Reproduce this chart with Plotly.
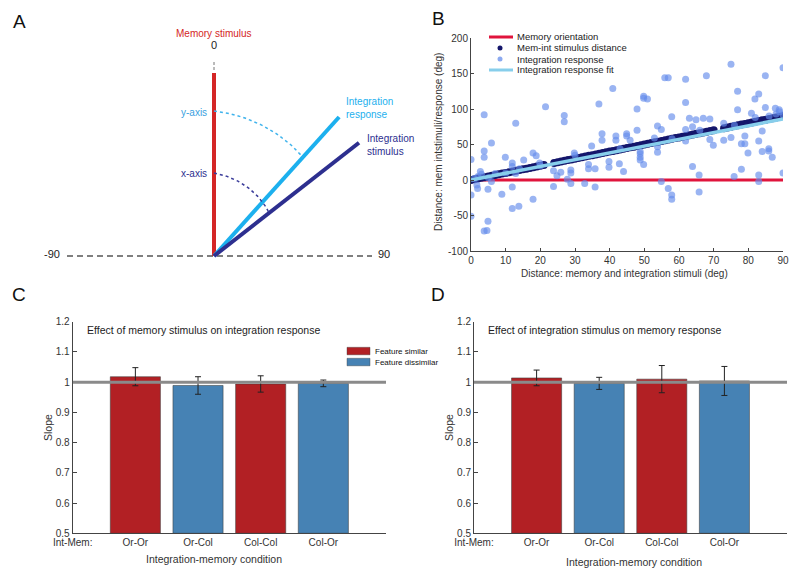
import numpy as np
import plotly.graph_objects as go

# ---- data -------------------------------------------------------------
# Panel A: schematic orientations (deg from the memory stimulus)
orient_names = ["Memory stimulus", "Integration response", "Integration stimulus"]
orient_angles = [0, 42, 52]
orient_ticks = [-90, 0, 90]

# Panel B: distances (deg)
mem_x = [0, 90]
mem_y = [0, 0]
stim_dist = [0, 1, 2, 3, 4, 5, 6, 7, 8, 9, 10, 11, 12, 13, 14, 15, 16, 17, 18, 19, 20, 21,
             24, 25, 26, 27, 28, 29, 30, 31, 32, 33, 34, 35, 36, 37, 38, 39, 40, 41, 42, 43,
             44, 45, 46, 47, 48, 49, 50, 51, 52, 53, 54, 55, 56, 57, 58, 59, 60, 61, 62, 63,
             64, 65, 66, 67, 68, 69, 70, 73, 74, 75, 76, 77, 78, 79, 80, 81, 82, 83, 84, 85,
             86, 87, 88, 89, 90]
resp_x = [0, 0, 0, 1.7, 1.9, 2.7, 3.8, 3.8, 3.8, 3.8, 4.6, 4.9, 4.9, 5.9, 5.9, 8.9, 9.9,
          11.9, 11.9, 11.9, 11.9, 12.9, 12.9, 13.8, 15.2, 17.9, 17.9, 18.8, 19.8, 21.5,
          23.8, 23.8, 24.8, 25.9, 26.9, 26.9, 27.8, 28.8, 28.8, 28.8, 29.8, 32.8, 33.9,
          33.9, 34.8, 35.8, 35.8, 36.9, 37.8, 37.8, 39.8, 39.8, 40.9, 41.8, 41.8, 42.8, 44,
          44.9, 44.9, 45.9, 47.9, 47.9, 48.8, 48.8, 48.8, 48.8, 49.8, 49.8, 49.8, 50.9,
          52.9, 53.8, 53.8, 53.8, 54.9, 54.9, 55.9, 56.9, 56.9, 57.9, 57.9, 57.9, 61.9,
          61.9, 61.9, 61.9, 63, 63.9, 63.9, 64.9, 65.8, 65.8, 67, 67.9, 68.9, 68.9, 69.9,
          72.9, 72.9, 75, 75, 75.9, 76.9, 76.9, 78, 78, 79, 79, 79.9, 80.9, 81.9, 83, 83,
          83, 83, 84, 84, 84.9, 84.9, 85.9, 85.9, 86.9, 87.8, 88.9, 90, 90, 90,
          1, 2, 3, 5, 7, 10, 14, 20, 30, 43, 58, 66, 76, 82, 86, 88, 89]
resp_y = [29, -21, -51, -7, -12, 12, 92, 41, 32, -72, -71, -58, -13, 52, -2, -20, 32,
          24, 19, -10, -40, 80, 9, -37, 28, 38, -27, 34, 24, 103,
          -9, 13, 6, 11, 91, 82, 1, 14, 10, -5, 38, -5, 22,
          16, 48, 16, -10, 107, 65, 56, 26, 18, 129, 62, 56, 23, 12,
          65, 62, 56, 100, 70, 40, 37, 32, 28, 118, 115, 22, 114,
          59, 76, 47, 39, 71, -2, 144, 144, -12, 89, -21, -27, 142,
          109, 71, 55, 87, 75, 19, 85, 7, -17, 87, 147, 86, 57, 49,
          56, 80, 163, 60, 5, 125, 99, 51, 15, 51, 62, 38, 94, 114, 121, 55,
          7, -2, 69, 40, 147, 102, 44, 41, 32, 101, 99, 158, 10, 92,
          2, 5, 8, 3, 9, 10, 16, 20, 35, 44, 58, 70, 77, 88, 90, 93, 96]
fit_x = [0, 90]
fit_y = [0, 86]
b_xticks = [0, 10, 20, 30, 40, 50, 60, 70, 80, 90]
b_yticks = [-100, -50, 0, 50, 100, 150, 200]

# Panels C and D: slopes per integration-memory condition
conditions = ["Or-Or", "Or-Col", "Col-Col", "Col-Or"]
feature_group = ["Feature similar", "Feature dissimilar", "Feature similar", "Feature dissimilar"]
slope_c = [1.018, 0.989, 0.994, 0.996]
err_c = [0.030, 0.029, 0.027, 0.011]
slope_d = [1.014, 0.996, 1.010, 1.004]
err_d = [0.026, 0.020, 0.045, 0.048]
slope_ticks = [0.5, 0.6, 0.7, 0.8, 0.9, 1.0, 1.1, 1.2]
slope_ticktext = ["0.5", "0.6", "0.7", "0.8", "0.9", "1", "1.1", "1.2"]

# ---- style ------------------------------------------------------------
W, H = 800, 578
FONT = "Liberation Sans, Arial, sans-serif"
TXT = "#333333"
RED_A, LBLUE_A, DBLUE_A = "#d42626", "#1cb0ee", "#2d2f8f"
group_colors = {"Feature similar": "#b22024", "Feature dissimilar": "#4682b4"}


def px(x):
    return x / W


def py(y):
    return 1 - y / H


def note(x, y, text, size=10.5, color=TXT, xanchor="center", angle=0, ref="paper", **kw):
    if ref == "paper":
        x, y, xr, yr = px(x), py(y), "paper", "paper"
    else:
        xr, yr = "x4", "y4"
    fig.add_annotation(x=x, y=y, xref=xr, yref=yr, text=text, showarrow=False,
                       xanchor=xanchor, yanchor="middle", textangle=angle,
                       font=dict(family=FONT, size=size, color=color), **kw)


fig = go.Figure()

# ---- panel A (axes in page pixels) ------------------------------------
ox, oy = 214, 256
arm_len = {"Memory stimulus": 183, "Integration response": 187, "Integration stimulus": 184}
arm_col = {"Memory stimulus": RED_A, "Integration response": LBLUE_A,
           "Integration stimulus": DBLUE_A}

for name, ang in zip(orient_names, orient_angles):
    a = np.deg2rad(ang)
    r = arm_len[name]
    fig.add_trace(go.Scatter(x=[ox, ox + r * np.sin(a)], y=[oy, oy - r * np.cos(a)],
                             mode="lines", line=dict(color=arm_col[name], width=4),
                             xaxis="x4", yaxis="y4", showlegend=False, hoverinfo="skip"))


def arc(theta_end, r0, r1, n=40):
    t = np.linspace(0, np.deg2rad(theta_end), n)
    r = np.linspace(r0, r1, n)
    return ox + r * np.sin(t), oy - r * np.cos(t)


ax_y, ay_y = arc(orient_angles[1], 145, 133)
ax_x, ay_x = arc(orient_angles[2], 83, 70)
fig.add_trace(go.Scatter(x=ax_y, y=ay_y, mode="lines", line=dict(color="#3fb3ec", width=1.5, dash="dot"),
                         xaxis="x4", yaxis="y4", showlegend=False, hoverinfo="skip"))
fig.add_trace(go.Scatter(x=ax_x, y=ay_x, mode="lines", line=dict(color="#3a3c9a", width=1.5, dash="dot"),
                         xaxis="x4", yaxis="y4", showlegend=False, hoverinfo="skip"))

# dashed baseline (-90 .. 90) and the small dashed tick above 0
fig.add_shape(type="line", xref="x4", yref="y4", x0=ox - 147, y0=oy, x1=ox + 158, y1=oy,
              line=dict(color="#555555", width=1.5, dash="6px,4px"), layer="below")
fig.add_shape(type="line", xref="x4", yref="y4", x0=ox, y0=oy - 186, x1=ox, y1=oy - 196,
              line=dict(color="#777777", width=1, dash="3px,2px"))

tick_r = {-90: 162, 0: 209, 90: 170}
for t in orient_ticks:
    a = np.deg2rad(t)
    note(ox + tick_r[t] * np.sin(a), oy - 2 - tick_r[t] * np.cos(a), str(t),
         size=11, color="#222", ref="a")

note(ox, 33, "Memory stimulus", size=10, color=RED_A, ref="a")
note(209, 112, "y-axis", size=10, color="#3a9fe0", xanchor="right", ref="a")
note(209, 173, "x-axis", size=10, color=DBLUE_A, xanchor="right", ref="a")
note(344, 108, "Integration<br>response", size=10, color=LBLUE_A, xanchor="left",
     ref="a", align="left")
note(365, 145, "Integration<br>stimulus", size=10, color=DBLUE_A, xanchor="left",
     ref="a", align="left")

# ---- panel B -----------------------------------------------------------
fig.add_trace(go.Scatter(x=mem_x, y=mem_y, mode="lines", line=dict(color="#e0143c", width=3),
                         name="Memory orientation", showlegend=False))
fig.add_trace(go.Scatter(x=stim_dist, y=stim_dist, mode="markers",
                         marker=dict(color="#14166b", size=8),
                         name="Mem-int stimulus distance", showlegend=False))
fig.add_trace(go.Scatter(x=resp_x, y=resp_y, mode="markers",
                         marker=dict(color="rgba(100,140,235,0.65)", size=7),
                         name="Integration response", showlegend=False))
fig.add_trace(go.Scatter(x=fit_x, y=fit_y, mode="lines", line=dict(color="#87ceeb", width=3.5),
                         name="Integration response fit", showlegend=False))

# manual legend for B
leg_rows = [("Memory orientation", "line", "#e0143c"),
            ("Mem-int stimulus distance", "dot", "#14166b"),
            ("Integration response", "dot", "rgba(100,140,235,0.75)"),
            ("Integration response fit", "line", "#87ceeb")]
for i, (lab, kind, col) in enumerate(leg_rows):
    yy = 37 + 11 * i
    if kind == "line":
        fig.add_shape(type="line", xref="paper", yref="paper", x0=px(489), x1=px(513),
                      y0=py(yy), y1=py(yy), line=dict(color=col, width=3))
    else:
        fig.add_shape(type="circle", xref="paper", yref="paper", x0=px(497.5), x1=px(502.5),
                      y0=py(yy + 2.5), y1=py(yy - 2.5), fillcolor=col, line=dict(width=0))
    note(515, yy, lab, size=9.5, color="#222", xanchor="left")

# ---- panels C and D ----------------------------------------------------
bar_x = [1, 2, 3, 4]
bar_cols = [group_colors[g] for g in feature_group]
for slopes, errs, xa, ya in [(slope_c, err_c, "x2", "y2"), (slope_d, err_d, "x3", "y3")]:
    fig.add_trace(go.Bar(x=bar_x, y=[s - 0.5 for s in slopes], base=0.5, width=0.8,
                         marker=dict(color=bar_cols, line=dict(color="rgba(60,60,60,0.55)", width=1)),
                         error_y=dict(type="data", array=errs, color="#222", thickness=1, width=3),
                         xaxis=xa, yaxis=ya, showlegend=False, hoverinfo="skip"))
    fig.add_shape(type="line", xref=xa, yref=ya, x0=0, x1=5, y0=1, y1=1,
                  line=dict(color="#8a8a8a", width=3))

# manual legend for C
for i, g in enumerate(["Feature similar", "Feature dissimilar"]):
    y0 = 347.3 + 11 * i
    fig.add_shape(type="rect", xref="paper", yref="paper", x0=px(347), x1=px(370),
                  y0=py(y0 + 7.5), y1=py(y0), fillcolor=group_colors[g],
                  line=dict(color="rgba(60,60,60,0.5)", width=0.8))
    note(372.5, y0 + 3.8, g, size=8, color="#111", xanchor="left")

note(85, 329.5, "Effect of memory stimulus on integration response", color="#222", xanchor="left")
note(486, 329.5, "Effect of integration stimulus on memory response", color="#222", xanchor="left")

# axis titles
note(438, 142, "Distance: mem intstimuli/response (deg)", size=10, angle=-90)
note(624, 274, "Distance: memory and integration stimuli (deg)", size=10)
note(48, 428, "Slope", angle=-90)
note(449, 428, "Slope", angle=-90)
note(214, 559, "Integration-memory condition")
note(634, 562, "Integration-memory condition")

# panel letters
for lab, x, y in [("A", 19, 21), ("B", 438, 19), ("C", 19, 294), ("D", 438, 294)]:
    note(x, y, lab, size=19, color="#111")

# ---- axes --------------------------------------------------------------
tick_font = dict(family=FONT, size=10, color=TXT)
common = dict(showline=True, linecolor="#444", linewidth=1, showgrid=False, zeroline=False,
              tickfont=tick_font, tickcolor="#444", automargin=False)

fig.update_layout(
    width=W, height=H,
    margin=dict(l=0, r=0, t=0, b=0, pad=0, autoexpand=False),
    paper_bgcolor="white", plot_bgcolor="white",
    showlegend=False,
    font=dict(family=FONT),
    xaxis=dict(domain=[px(471), px(783)], range=[0, 90], anchor="y", tickvals=b_xticks,
               ticks="inside", ticklen=3, **common),
    yaxis=dict(domain=[py(251), py(38)], range=[-100, 200], anchor="x", tickvals=b_yticks,
               ticktext=[str(v) for v in b_yticks], ticks="inside", ticklen=3, **common),
    xaxis2=dict(domain=[px(72.7), px(386)], range=[0, 5], anchor="y2", tickvals=[0] + bar_x,
                ticktext=["Int-Mem:"] + conditions, ticks="", **common),
    yaxis2=dict(domain=[py(533.3), py(321.7)], range=[0.5, 1.2], anchor="x2",
                tickvals=slope_ticks, ticktext=slope_ticktext, ticks="inside", ticklen=4, **common),
    xaxis3=dict(domain=[px(474), px(787)], range=[0, 5], anchor="y3", tickvals=[0] + bar_x,
                ticktext=["Int-Mem:"] + conditions, ticks="", **common),
    yaxis3=dict(domain=[py(533.3), py(321.7)], range=[0.5, 1.2], anchor="x3",
                tickvals=slope_ticks, ticktext=slope_ticktext, ticks="inside", ticklen=4, **common),
    xaxis4=dict(domain=[0, px(420)], range=[0, 420], anchor="y4", visible=False),
    yaxis4=dict(domain=[py(280), 1], range=[280, 0], anchor="x4", visible=False),
)

# the page's default body margin would shift the figure by 8px
fig.write_html("out.html", config={"displayModeBar": False},
               post_script="document.body.style.margin='0';")
